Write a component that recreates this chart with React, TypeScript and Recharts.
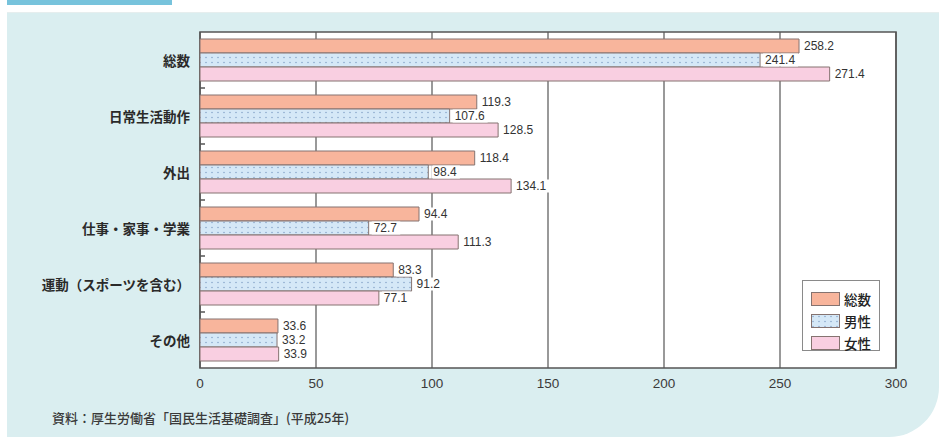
import {
  BarChart,
  Bar,
  XAxis,
  YAxis,
  CartesianGrid,
  LabelList,
  ReferenceArea,
} from 'recharts'

const categories = ['総数', '日常生活動作', '外出', '仕事・家事・学業', '運動（スポーツを含む）', 'その他']
const totalValues = [258.2, 119.3, 118.4, 94.4, 83.3, 33.6]
const maleValues = [241.4, 107.6, 98.4, 72.7, 91.2, 33.2]
const femaleValues = [271.4, 128.5, 134.1, 111.3, 77.1, 33.9]
const xTicks = [0, 50, 100, 150, 200, 250, 300]
const seriesNames = ['総数', '男性', '女性']
const sourceNote = '資料：厚生労働省「国民生活基礎調査」(平成25年)'

const W = 939
const H = 437
const MARGIN = { top: 32, right: 43, bottom: 39, left: 0 }
const Y_AXIS_W = 200
const X_AXIS_H = 30
const BAND = (H - MARGIN.top - MARGIN.bottom - X_AXIS_H) / categories.length

const FRAME = '#555'
const BAR_EDGE = '#857370'
const FILLS = ['#f8b59c', 'url(#maleDots)', '#f9cfe1']
const KEYS = ['total', 'male', 'female']

const data = categories.map((name, i) => ({
  name,
  total: totalValues[i],
  male: maleValues[i],
  female: femaleValues[i],
}))

// value label with a white patch behind it, so grid lines don't run through the number
function ValueLabel(props: any) {
  const { x, y, width, height, value } = props
  const text = String(value)
  const tx = x + width + 5
  const ty = y + height / 2
  const tw = text.length * 6.4 + 3
  return (
    <g>
      <rect x={tx - 2} y={ty - 6.5} width={tw} height={13} fill="#fff" />
      <text
        x={tx}
        y={ty}
        dominantBaseline="central"
        fontSize={12}
        fill="#333"
        fontFamily='"Liberation Sans", Arial, sans-serif'
      >
        {text}
      </text>
    </g>
  )
}

function CategoryTick(props: any) {
  const { x, y, payload, index } = props
  const axisX = x + 10
  return (
    <g>
      <text
        x={x}
        y={y}
        textAnchor="end"
        dominantBaseline="central"
        fontSize={13.5}
        fontWeight={700}
        fill="#2a2a2a"
        fontFamily='"Noto Sans CJK JP", sans-serif'
      >
        {payload.value}
      </text>
      {/* small marks on the left edge between groups */}
      {index < categories.length - 1 && (
        <line x1={axisX} x2={axisX + 5} y1={y + BAND / 2} y2={y + BAND / 2} stroke={FRAME} strokeWidth={1.5} />
      )}
    </g>
  )
}

function LegendBox() {
  return (
    <div style={{
      position: 'absolute', left: 802, top: 280, width: 78, height: 71,
      border: '1px solid #8a8a8a', background: '#fff', padding: '7px 0 0 8px', boxSizing: 'border-box',
    }}>
      {seriesNames.map((n, i) => (
        <div key={n} style={{ display: 'flex', alignItems: 'center', height: 22 }}>
          <svg width={29} height={14} style={{ display: 'block' }}>
            <rect x={0.5} y={0.5} width={28} height={13} fill={FILLS[i]} stroke={BAR_EDGE} />
          </svg>
          <span style={{
            marginLeft: 4, fontSize: 13.5, color: '#222', fontWeight: 500,
            fontFamily: '"Noto Sans CJK JP", sans-serif', lineHeight: '14px',
          }}>{n}</span>
        </div>
      ))}
    </div>
  )
}

export default function App() {
  return (
    <div style={{ position: 'relative', width: W, height: H, background: '#fff', overflow: 'hidden' }}>
      <style>{'body{margin:0}'}</style>
      {/* header strip and panel */}
      <div style={{ position: 'absolute', left: 7, top: 0, width: 165, height: 5, background: '#77c3dc' }} />
      <div style={{
        position: 'absolute', left: 7, top: 12, right: 0, bottom: 0,
        background: '#daeef0', borderBottomRightRadius: 50, borderTop: '1px solid #e6eeee',
      }} />

      <div style={{ position: 'absolute', left: 0, top: 0 }}>
        <BarChart
          width={W}
          height={H}
          data={data}
          layout="vertical"
          margin={MARGIN}
          barCategoryGap={7}
          barGap={0}
        >
          <defs>
            <pattern id="maleDots" width="6" height="5" patternUnits="userSpaceOnUse">
              <rect width="6" height="5" fill="#d5e8f7" />
              <circle cx="2" cy="2.5" r="0.8" fill="#8aa7cb" />
            </pattern>
          </defs>
          <CartesianGrid horizontal={false} stroke={FRAME} strokeWidth={1.2} fill="#fff" fillOpacity={1} />
          <XAxis
            type="number"
            domain={[0, 300]}
            ticks={xTicks}
            axisLine={false}
            tickLine={false}
            tickSize={0}
            tickMargin={10}
            height={X_AXIS_H}
            tick={{ fill: '#3a3a3a', fontSize: 13.5, fontFamily: '"Liberation Sans", Arial, sans-serif' }}
          />
          <YAxis
            type="category"
            dataKey="name"
            width={Y_AXIS_W}
            axisLine={false}
            tickLine={false}
            tickSize={0}
            tickMargin={10}
            tick={(p: any) => <CategoryTick {...p} />}
          />
          {KEYS.map((k, i) => (
            <Bar
              key={k}
              dataKey={k}
              name={seriesNames[i]}
              fill={FILLS[i]}
              stroke={BAR_EDGE}
              strokeWidth={1}
              isAnimationActive={false}
            >
              <LabelList dataKey={k} content={(p: any) => <ValueLabel {...p} />} />
            </Bar>
          ))}
          <ReferenceArea x1={0} x2={300} fill="none" stroke={FRAME} strokeWidth={1.6} ifOverflow="visible" />
        </BarChart>
      </div>

      <LegendBox />

      <div style={{
        position: 'absolute', left: 52, top: 408, fontSize: 13, color: '#3a3a3a', fontWeight: 500,
        fontFamily: '"Noto Sans CJK JP", sans-serif', whiteSpace: 'nowrap',
      }}>
        {sourceNote}
      </div>
    </div>
  )
}
